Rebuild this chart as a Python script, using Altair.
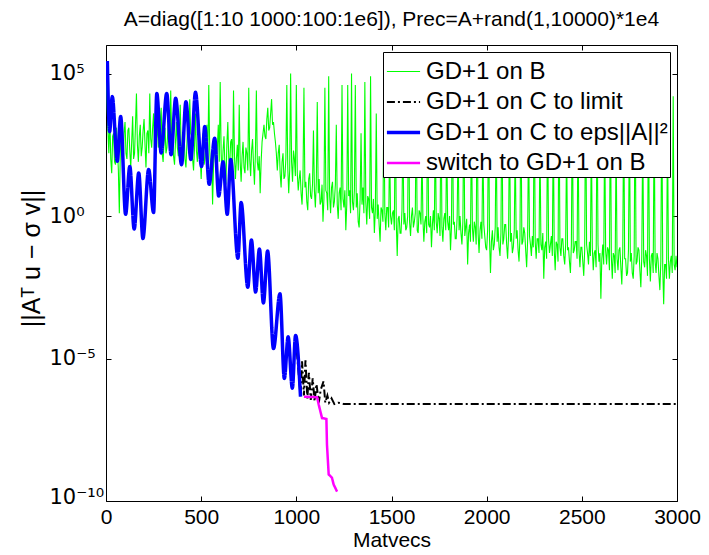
import altair as alt
import pandas as pd

# ---------------- data (log10 of the residual norm) ----------------
names = ["GD+1 on B", "GD+1 on C to limit", "GD+1 on C to eps||A||²", "switch to GD+1 on B"]
colors = ["#00ff00", "#000000", "#0000ff", "#ff00ff"]
widths = [1.1, 2.0, 3.5, 2.5]
dashes = [[1, 0], [8, 3, 2, 3], [1, 0], [1, 0]]

# green: one value every 5 matvecs, x = 0 .. 3000 (20 values per 100 matvecs)
green_step = 5
green_log = [
    5.0, 4.2, 3.0, 2.2, 3.6, 2.0, 1.5, 2.8, 2.9, 1.9, 1.8, 3.1, 2.4, 1.6, 0.1, 2.2, 3.0, 2.1, 1.7, 2.9,
    3.3, 2.2, 2.0, 3.0, 3.1, 2.3, 1.7, 2.6, 3.5, 2.0, 2.2, 3.2, 4.3, 2.5, 1.9, 2.8, 3.2, 2.1, 2.4, 3.0,
    3.4, 2.5, 1.7, 2.9, 3.0, 2.2, 4.3, 2.7, 2.4, 3.1, 3.6, 2.3, 2.0, 2.7, 3.2, 2.4, 2.6, 3.3, 3.8, 2.2,
    1.9, 2.6, 3.1, 2.2, 2.4, 3.0, 3.7, 2.5, 4.4, 2.7, 2.9, 2.1, 1.8, 2.6, 3.3, 2.4, 2.1, 3.0, 3.9, 2.3,
    2.2, 2.8, 3.0, 2.0, 1.7, 2.5, 3.4, 2.2, 4.1, 2.9, 2.8, 2.0, 1.6, 2.4, 3.6, 2.3, 1.9, 2.7, 3.2, 2.1,
    1.3, 2.2, 2.9, 1.8, 2.0, 2.6, 3.2, 2.0, 4.6, 2.3, 1.6, 2.1, 0.4, 1.8, 2.6, 1.9, 1.5, 2.4, 3.2, 1.9,
    4.7, 2.2, 1.4, 2.3, 2.8, 1.7, 1.1, 2.5, 3.3, 2.0, 1.8, 2.6, 2.7, 1.6, 4.4, 2.1, 1.3, 2.0, 2.5, 1.6,
    3.9, 1.9, 1.2, 2.1, 2.6, 1.7, 1.5, 2.4, 2.2, 1.6, 4.5, 2.0, 1.4, 2.3, 2.7, 1.8, 1.1, 2.2, 4.4, 1.9,
    1.6, 2.1, 0.8, 1.9, 2.6, 2.9, 3.2, 2.8, 2.7, 3.4, 3.8, 3.0, 3.1, 3.6, 4.1, 3.2, 3.3, 2.9, 2.6, 2.2,
    1.6, 2.2, 2.5, 1.5, 1.0, 1.9, 2.2, 1.3, 1.4, 2.0, 4.6, 1.7, 0.8, 1.6, 5.0, 1.9, 1.2, 2.3, 2.0, 1.4,
    4.6, 1.5, 0.9, 1.3, 1.6, 0.8, 0.4, 1.4, 4.5, 1.0, 1.2, 0.5, 0.2, 1.3, 1.5, 0.7, 0.6, 1.1, 3.0, 0.9,
    0.3, 1.2, 4.0, 0.8, 1.3, 0.4, 0.5, 1.1, -0.2, 0.6, 4.5, 0.9, 0.8, 0.2, 4.9, 0.7, 0.1, 1.0, 1.2, 0.3,
    0.5, 1.1, 3.2, 0.4, -0.1, 0.8, 1.0, 0.2, 4.6, 0.6, 0.3, 0.9, -0.5, 0.4, 4.6, 0.7, 0.9, 0.1, 5.0, 0.5,
    0.2, 0.9, 4.6, 0.3, 0.8, -0.2, -0.4, 0.6, 2.9, 0.4, 1.0, 0.1, 4.7, 0.5, -0.3, 0.7, 0.6, -0.1, 4.9, 0.3,
    0.1, 0.6, -0.6, 0.2, 3.6, -0.1, 0.4, -0.3, -0.9, 0.3, 0.2, -0.2, 4.2, 0.1, -0.5, 0.3, 0.3, -0.4, 2.7, 0.0,
    -0.3, 0.1, 0.2, -0.5, 4.4, -0.2, -1.4, -0.1, 0.0, -0.6, -0.6, 0.2, 3.1, -0.3, 0.1, -0.5, -0.4, 0.0, 4.6, -0.2,
    -0.7, 0.0, 0.3, -0.4, -0.2, 0.1, 3.9, -0.5, -0.6, 0.2, 0.1, -0.3, 2.5, -0.1, -0.9, -0.2, 0.0, -0.6, 4.8, -0.3,
    -0.4, 0.0, -1.1, -0.3, 0.2, -0.5, 3.4, -0.2, -0.6, 0.1, -0.1, -0.7, 4.3, -0.4, -0.9, -0.1, 0.1, -0.5, 3.0, -0.2,
    -0.5, 0.0, -1.2, -0.4, 4.5, -0.3, -0.2, -0.8, -0.8, 0.0, 2.8, -0.5, 0.0, -0.6, -1.0, -0.2, 4.1, -0.7, -0.4, -0.1,
    -1.7, -0.6, -0.3, -0.9, 3.6, -0.4, -0.9, -0.2, -0.4, -1.0, 4.7, -0.6, -1.3, -0.5, -0.2, -0.8, 2.9, -0.3, -0.7, -1.1,
    -1.2, -0.5, 4.2, -0.8, -2.0, -0.9, -0.5, -1.2, -1.0, -0.4, 3.3, -0.9, -0.4, -1.1, -1.4, -0.6, 4.6, -1.0, -0.8, -0.3,
    -0.3, -1.0, -1.5, -0.7, 3.8, -0.9, -0.6, -1.3, -1.1, -0.5, 2.6, -0.8, -0.5, -1.2, -1.6, -0.7, 4.4, -1.0, -0.9, -0.4,
    -0.6, -1.2, -1.8, -0.9, 3.1, -0.7, -1.0, -1.4, -0.7, -1.1, 4.8, -0.9, -1.5, -0.8, -0.8, -1.3, 2.8, -1.0, -1.2, -0.6,
    -2.2, -1.1, -0.9, -1.5, 4.0, -0.8, -1.3, -1.0, -0.7, -1.4, 3.5, -1.2, -1.9, -0.9, -1.0, -1.6, 4.6, -1.1, -1.4, -0.8,
    -0.8, -1.4, -1.7, -1.0, 2.7, -1.2, -1.1, -1.6, -2.0, -1.0, 4.3, -1.3, -1.2, -0.9, -0.9, -1.5, 3.6, -1.2, -1.8, -1.1,
    -1.1, -1.6, -2.1, -1.2, 4.9, -1.0, -1.3, -1.7, -0.9, -1.4, 3.0, -1.1, -1.9, -1.3, -1.2, -1.8, 4.2, -1.0, -1.6, -1.3,
    -2.9, -1.5, -1.0, -1.7, 3.4, -1.2, -1.7, -1.1, -1.2, -1.9, 4.7, -1.4, -2.2, -1.3, -1.4, -2.0, 2.9, -1.5, -1.9, -1.2,
    -1.1, -1.8, -2.4, -1.3, 4.1, -1.5, -1.5, -2.1, -2.0, -1.2, 3.7, -1.6, -1.3, -2.0, -2.2, -1.4, 4.8, -1.7, -1.6, -1.1,
    -1.2, -1.9, -2.5, -1.4, 3.2, -1.6, -1.8, -1.2, -1.4, -2.1, 4.5, -1.5, -2.3, -1.4, -1.3, -2.0, 3.9, -1.6, -2.0, -1.3,
    -1.5, -2.1, -2.6, -1.6, 4.4, -1.8, -3.1, -1.7, -1.7, -2.2, 3.3, -1.5, -2.2, -1.6, -1.4, -2.0, 4.2, -1.7, -1.9, -1.4,
    -1.8,
]

black_x = [996, 1022, 1030, 1040, 1048, 1058, 1066, 1076, 1086, 1096, 1106, 1118,
           1128, 1143, 1152, 1163, 1172, 1185, 1200, 1220, 1250, 1300, 3000]
black_log = [-4.19, -6.34, -5.1, -6.3, -5.06, -6.4, -5.5, -6.45, -5.7, -6.5, -5.9, -6.55,
             -6.1, -5.8, -6.55, -6.3, -6.55, -6.4, -6.6, -6.55, -6.6, -6.6, -6.6]

blue_x = [7, 19, 33, 59, 77, 103, 125, 148, 172, 194, 224, 250, 267, 290, 319, 342, 366,
          397, 420, 446, 470, 502, 519, 542, 571, 592, 615, 637, 655, 693, 710, 745, 764,
          786, 806, 827, 849, 880, 914, 937, 957, 979, 996, 1022]
blue_log = [5.44, 2.96, 4.19, 1.92, 3.49, 0.06, 1.74, -0.46, 1.51, -0.79, 1.63, 0.12, 4.30,
            2.21, 4.30, 2.15, 4.13, 1.80, 4.01, 1.98, 4.34, 1.74, 3.14, 1.11, 2.73, 0.70,
            1.90, 0.06, 1.98, -1.48, 0.47, -2.50, -0.84, -2.67, -1.16, -3.05, -1.23, -4.65,
            -2.73, -5.70, -4.24, -6.04, -4.19, -6.34]

mag_x = [1040, 1109, 1118, 1135, 1158, 1161, 1170, 1187, 1196, 1214]
mag_log = [-6.34, -6.36, -6.63, -7.09, -7.12, -8.02, -9.07, -9.18, -9.42, -9.67]

x_ticks = [0, 500, 1000, 1500, 2000, 2500, 3000]
y_ticks = [1e-10, 1e-5, 1, 1e5]

# ---------------- frames ----------------
def frame(xs, logs, name):
    return pd.DataFrame({"x": xs, "y": [10.0 ** v for v in logs], "series": name})

df_green = frame([i * green_step for i in range(len(green_log))], green_log, names[0])
df_black = frame(black_x, black_log, names[1])
df_blue = frame(blue_x, blue_log, names[2])
df_mag = frame(mag_x, mag_log, names[3])

W, H = 571, 456
FONT = "Liberation Sans"

xscale = alt.Scale(domain=[0, 3000], nice=False, zero=False)
yscale = alt.Scale(type="log", domain=[1e-10, 1e6], nice=False)

legend = alt.Legend(
    title=None, orient="top-right", offset=7, fillColor="white", strokeColor="black",
    padding=2, labelFontSize=24, labelFont=FONT, labelColor="black", labelLimit=500,
    labelOffset=4, symbolType="stroke", symbolSize=1100, rowPadding=0,
)
color_enc = alt.Color("series:N", scale=alt.Scale(domain=names, range=colors), legend=legend)
dash_enc = alt.StrokeDash("series:N", scale=alt.Scale(type="ordinal", domain=names, range=dashes), legend=legend)
width_enc = alt.StrokeWidth("series:N", scale=alt.Scale(type="ordinal", domain=names, range=widths), legend=legend)

ylabel_expr = ("round(log(datum.value)/LN10) == 5 ? '10⁵' : round(log(datum.value)/LN10) == 0 ? '10⁰' : "
               "round(log(datum.value)/LN10) == -5 ? '10⁻⁵' : '10⁻¹⁰'")

main_x = alt.Axis(values=x_ticks, format="d", orient="bottom", ticks=False, domain=False, grid=False,
                  labelFontSize=21, labelFont=FONT, labelColor="black", labelPadding=5,
                  labelFlush=False, title="Matvecs", titleFont=FONT, titleFontSize=21,
                  titleFontWeight="normal", titleColor="black", titlePadding=2)
main_y = alt.Axis(values=y_ticks, orient="left", ticks=False, domain=False, grid=False,
                  labelExpr=ylabel_expr, labelFontSize=21, labelFont="DejaVu Sans", labelColor="black",
                  labelAlign="left", labelPadding=57, labelFlush=False,
                  labelOffset={"condition": {"test": "datum.value < 1e-9", "value": -4}, "value": 0},
                  title="||Aᵀ u − σ v||", titleFont=FONT, titleY=213,
                  titleFontSize=25, titleFontWeight="normal", titleColor="black", titlePadding=5)


def line_layer(df, first=False, interp="linear"):
    return alt.Chart(df).mark_line(clip=True, interpolate=interp).encode(
        x=alt.X("x:Q", scale=xscale, axis=main_x if first else None),
        y=alt.Y("y:Q", scale=yscale, axis=main_y if first else None),
        color=color_enc, strokeDash=dash_enc, strokeWidth=width_enc,
        order=alt.Order("x:Q"),
    )


def tick_axis(orient, offset, vals):
    return alt.Axis(orient=orient, offset=offset, values=vals, labels=False, ticks=True,
                    tickSize=5, tickColor="black", tickWidth=1, domain=False, grid=False, title=None)


dummy1 = alt.Chart(df_mag).mark_point(opacity=0).encode(
    x=alt.X("x:Q", scale=xscale, axis=tick_axis("top", -H, x_ticks)),
    y=alt.Y("y:Q", scale=yscale, axis=tick_axis("right", -W, y_ticks)),
)
dummy2 = alt.Chart(df_mag).mark_point(opacity=0).encode(
    x=alt.X("x:Q", scale=xscale, axis=tick_axis("bottom", -H, x_ticks)),
    y=alt.Y("y:Q", scale=yscale, axis=tick_axis("left", -W, y_ticks)),
)

chart = alt.layer(
    line_layer(df_green, first=True),
    line_layer(df_black),
    line_layer(df_blue, interp="monotone"),
    line_layer(df_mag),
    dummy1,
    dummy2,
).resolve_axis(x="independent", y="independent").properties(
    width=W, height=H,
    padding={"left": 11, "top": 0, "right": 0, "bottom": 0},
    title=alt.TitleParams(
        text="A=diag([1:10 1000:100:1e6]), Prec=A+rand(1,10000)*1e4",
        font=FONT, fontSize=21, fontWeight="normal", color="black", anchor="middle", offset=15,
    ),
    background="white",
).configure_view(stroke="black", strokeWidth=1)

chart.save("out.html", embed_options={"renderer": "svg", "actions": False})
